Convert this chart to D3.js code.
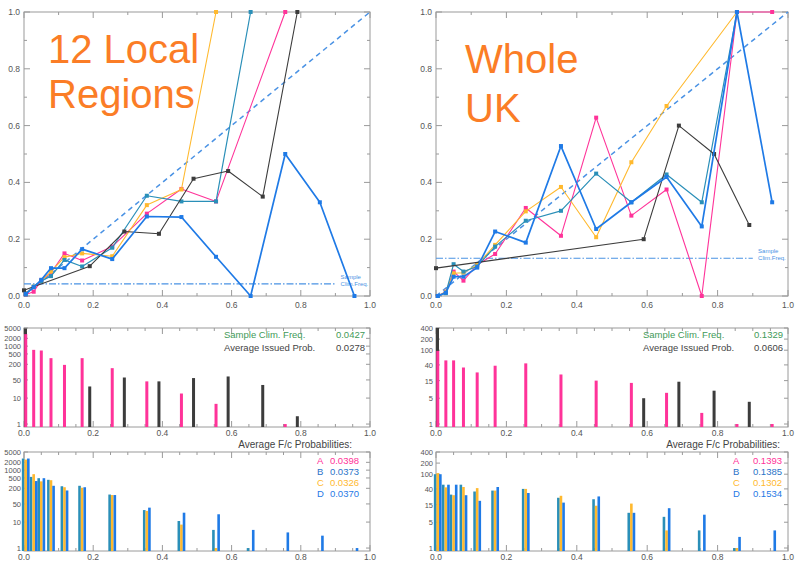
<!DOCTYPE html>
<html>
<head>
<meta charset="utf-8">
<script src="https://cdn.jsdelivr.net/npm/d3@7.9.0/dist/d3.min.js"></script>
<style>
  body { margin: 0; background: #fff; }
  svg text { font-family: "Liberation Sans", Arial, sans-serif; }
</style>
</head>
<body>
<svg id="chart" width="797" height="563"></svg>
<script>
// forecast probability bins (A-D) and the issued-forecast bins
const bins = [0.005, 0.028, 0.05, 0.078, 0.117, 0.168, 0.255, 0.355, 0.455, 0.555, 0.655, 0.755, 0.855, 0.955];
const localIssuedBins = [0, 0.19, 0.29, 0.39, 0.49, 0.59, 0.69, 0.79];
const ukIssuedBins = [0, 0.59, 0.69, 0.79, 0.89];

// 12 Local Regions: observed frequency per bin (null = empty bin)
const localRelA = [0.005, 0.015, 0.056, 0.082, 0.15, 0.125, 0.174, 0.29, 0.377, 0.333, null, 1.0, null, null];
const localRelB = [0.005, 0.033, 0.053, 0.07, 0.127, 0.104, 0.17, 0.353, 0.333, 0.333, 1.0, null, null, null];
const localRelC = [0.01, 0.033, 0.053, 0.086, 0.137, 0.15, 0.14, 0.32, 0.375, 1.0, null, null, null, null];
const localRelD = [0.008, 0.031, 0.057, 0.098, 0.098, 0.165, 0.13, 0.28, 0.278, 0.138, 0.0, 0.5, 0.33, 0.0];
const localRelIssued = [0.02, 0.105, 0.227, 0.219, 0.413, 0.44, 0.35, 1.0];

// 12 Local Regions: number of forecasts per bin
const localCountA = [2900, 720, 680, 345, 190, 345, 142, 44, 15, 6, null, 1, null, null];
const localCountIssued = [4800, 28, 62, 44, 59, 68, 32, 2];
const localCountB = [2800, 550, 490, 425, 240, 250, 115, 29, 11, 5, 1, null, null, null];
const localCountC = [2550, 700, 370, 410, 220, 210, 110, 27, 8, 1, null, null, null, null];
const localCountD = [2800, 380, 490, 250, 165, 220, 110, 36, 23, 20, 5, 4, 3, 1];

// Whole UK
const ukRelA = [0, 0.015, 0.086, 0.054, 0.11, 0.148, 0.31, 0.212, 0.628, 0.283, 0.375, 0.0, 1.0, 1.0];
const ukRelB = [0, 0.01, 0.112, 0.086, 0.104, 0.174, 0.265, 0.30, 0.431, 0.33, 0.428, 0.33, 1.0, null];
const ukRelC = [0, 0.015, 0.08, 0.082, 0.11, 0.18, 0.298, 0.384, 0.207, 0.471, 0.669, null, 1.0, null];
const ukRelD = [0, 0.012, 0.068, 0.068, 0.10, 0.227, 0.188, 0.528, 0.236, 0.33, 0.419, 0.245, 1.0, 0.33];
const ukRelIssued = [0.098, 0.2, 0.6, 0.5, 0.25];

const ukCountA = [96, 53, 53, 34, 25, 38, 44, 22, 15, 13, 7, 2, 1, 1];
const ukCountIssued = [400, 5, 14, 8, 4];
const ukCountB = [100, 52, 28, 52, 34, 36, 40, 23, 21, 9, 7, 3, 1, null];
const ukCountC = [107, 44, 27, 45, 42, 36, 40, 26, 14, 16, 3, null, 1, null];
const ukCountD = [100, 52, 52, 27, 19, 45, 31, 17, 25, 9, 12, 8, 2, 3];

// summary numbers and tick labels
const localClim = 0.0427, localIssuedMean = '0.0278';
const ukClim = 0.1329, ukIssuedMean = '0.0606';
const letters = ['A', 'B', 'C', 'D'];
const localMeans = ['0.0398', '0.0373', '0.0326', '0.0370'];
const ukMeans = ['0.1393', '0.1385', '0.1302', '0.1534'];
const probTicks = [0, 0.2, 0.4, 0.6, 0.8, 1.0];
const localCountTicks = [1, 10, 50, 200, 500, 1000, 2000, 5000];
const ukCountTicks = [1, 5, 15, 40, 100, 200, 400];

const colA = '#ff3399', colB = '#2a8fb8', colC = '#ffb92e', colD = '#1f7ae6', colIssued = '#3c3c3c';
const colClim = '#4a92e4', frameCol = '#9a9a9a', labelCol = '#555';

const svg = d3.select('#chart');

const columns = [
  {
    xr: [24, 370], title: ['12 Local', 'Regions'], titleX: 48, titleY: [63, 108],
    rel: [localRelA, localRelB, localRelC, localRelD], relIssued: localRelIssued, issuedBins: localIssuedBins,
    countA: localCountA, countIssued: localCountIssued, counts: [localCountB, localCountC, localCountD],
    clim: localClim, issuedMean: localIssuedMean, means: localMeans,
    yDomain: [0.77, 5000], yTicks: localCountTicks,
    legendX: 224, legendEnd: 365, letterX: 317, meanEnd: 359, fcTitleEnd: 352
  },
  {
    xr: [436, 788], title: ['Whole', 'UK'], titleX: 465, titleY: [73, 122],
    rel: [ukRelA, ukRelB, ukRelC, ukRelD], relIssued: ukRelIssued, issuedBins: ukIssuedBins,
    countA: ukCountA, countIssued: ukCountIssued, counts: [ukCountB, ukCountC, ukCountD],
    clim: ukClim, issuedMean: ukIssuedMean, means: ukMeans,
    yDomain: [0.83, 400], yTicks: ukCountTicks,
    legendX: 643, legendEnd: 783, letterX: 733, meanEnd: 782, fcTitleEnd: 780
  }
];

function frame(g, x, y) {
  const [x0, x1] = x.range();
  const [yb, yt] = y.range();
  g.append('rect').attr('x', x0).attr('y', yt).attr('width', x1 - x0).attr('height', yb - yt)
    .attr('fill', 'none').attr('stroke', frameCol).attr('stroke-width', 1);
}

function xTicks(g, x, y, minorStep, labelY) {
  const [yb, yt] = y.range();
  const minor = d3.range(0, 1.0001, minorStep);
  minor.forEach(v => {
    const major = Math.abs(v / 0.2 - Math.round(v / 0.2)) < 1e-6;
    const len = major ? 6 : 3;
    g.append('line').attr('x1', x(v)).attr('x2', x(v)).attr('y1', yb).attr('y2', yb - len).attr('stroke', frameCol);
    g.append('line').attr('x1', x(v)).attr('x2', x(v)).attr('y1', yt).attr('y2', yt + len).attr('stroke', frameCol);
  });
  g.selectAll(null).data(probTicks).join('text')
    .attr('x', d => x(d)).attr('y', labelY).attr('text-anchor', 'middle')
    .attr('font-size', 8.5).attr('fill', labelCol).text(d => d.toFixed(1));
}

columns.forEach(c => {
  const g = svg.append('g');
  const x = d3.scaleLinear().domain([0, 1]).range(c.xr);

  // ---------- reliability diagram ----------
  const y = d3.scaleLinear().domain([0, 1]).range([296, 12]);
  frame(g, x, y);
  xTicks(g, x, y, 0.1, 308);
  d3.range(0, 1.0001, 0.1).forEach(v => {
    const major = Math.abs(v / 0.2 - Math.round(v / 0.2)) < 1e-6;
    const len = major ? 6 : 3;
    g.append('line').attr('x1', c.xr[0]).attr('x2', c.xr[0] + len).attr('y1', y(v)).attr('y2', y(v)).attr('stroke', frameCol);
    g.append('line').attr('x1', c.xr[1]).attr('x2', c.xr[1] - len).attr('y1', y(v)).attr('y2', y(v)).attr('stroke', frameCol);
  });
  g.selectAll(null).data(probTicks).join('text')
    .attr('x', c.xr[0] - 4).attr('y', d => y(d) + 3).attr('text-anchor', 'end')
    .attr('font-size', 8.5).attr('fill', labelCol).text(d => d.toFixed(1));

  g.append('line').attr('x1', x(0)).attr('y1', y(0)).attr('x2', x(1)).attr('y2', y(1))
    .attr('stroke', colClim).attr('stroke-width', 1.5).attr('stroke-dasharray', '5,4');
  g.append('line').attr('x1', x(0)).attr('x2', x(0.9)).attr('y1', y(c.clim)).attr('y2', y(c.clim))
    .attr('stroke', colClim).attr('stroke-width', 1.2).attr('stroke-dasharray', '7,2,1.5,2');
  g.append('text').attr('x', x(0.915)).attr('y', y(c.clim) - 5).attr('font-size', 6).attr('fill', colClim).text('Sample');
  g.append('text').attr('x', x(0.915)).attr('y', y(c.clim) + 2).attr('font-size', 6).attr('fill', colClim).text('Clim.Freq.');

  const line = d3.line().x(d => x(d[0])).y(d => y(d[1]));
  const series = [
    { pts: c.rel[0].map((v, i) => [bins[i], v]), col: colA, w: 1.1 },
    { pts: c.rel[2].map((v, i) => [bins[i], v]), col: colC, w: 1.1 },
    { pts: c.rel[1].map((v, i) => [bins[i], v]), col: colB, w: 1.2 },
    { pts: c.relIssued.map((v, i) => [c.issuedBins[i], v]), col: colIssued, w: 1.1 },
    { pts: c.rel[3].map((v, i) => [bins[i], v]), col: colD, w: 1.7 }
  ];
  series.forEach(s => {
    const pts = s.pts.filter(p => p[1] != null);
    g.append('path').attr('d', line(pts)).attr('fill', 'none')
      .attr('stroke', s.col).attr('stroke-width', s.w).attr('stroke-linejoin', 'round');
    g.selectAll(null).data(pts).join('rect')
      .attr('x', d => x(d[0]) - 2).attr('y', d => y(d[1]) - 2).attr('width', 4).attr('height', 4)
      .attr('fill', s.col);
  });

  c.title.forEach((t, i) => {
    g.append('text').attr('x', c.titleX).attr('y', c.titleY[i]).attr('font-size', 40)
      .attr('fill', '#fb7d26').text(t);
  });

  // ---------- counts: A and issued ----------
  const yMid = d3.scaleLog().domain(c.yDomain).range([427, 328]);
  frame(g, x, yMid);
  xTicks(g, x, yMid, 0.05, 436);
  const yAxisTicks = (ys) => {
    c.yTicks.forEach(v => {
      g.append('line').attr('x1', c.xr[0]).attr('x2', c.xr[0] + 4).attr('y1', ys(v)).attr('y2', ys(v)).attr('stroke', frameCol);
      g.append('line').attr('x1', c.xr[1]).attr('x2', c.xr[1] - 4).attr('y1', ys(v)).attr('y2', ys(v)).attr('stroke', frameCol);
    });
    g.selectAll(null).data(c.yTicks).join('text')
      .attr('x', c.xr[0] - 3).attr('y', d => ys(d) + 3).attr('text-anchor', 'end')
      .attr('font-size', 7.5).attr('fill', labelCol).text(d => d);
  };
  yAxisTicks(yMid);

  const bar = (ys, xv, v, col, w, off) => {
    if (v == null) return;
    g.append('rect').attr('x', x(xv) + off - w / 2).attr('y', ys(v))
      .attr('width', w).attr('height', ys.range()[0] - ys(v)).attr('fill', col);
  };
  c.countIssued.forEach((v, i) => bar(yMid, c.issuedBins[i], v, colIssued, 3, i === 0 ? 1.5 : 0));
  c.countA.forEach((v, i) => bar(yMid, bins[i], v, colA, 3, 0));

  g.append('text').attr('x', c.legendX).attr('y', 338).attr('font-size', 9.5).attr('fill', '#3f9a58').text('Sample Clim. Freq.');
  g.append('text').attr('x', c.legendEnd).attr('y', 338).attr('text-anchor', 'end').attr('font-size', 9.5).attr('fill', '#3f9a58').text(c.clim.toFixed(4));
  g.append('text').attr('x', c.legendX).attr('y', 351).attr('font-size', 9.5).attr('fill', '#444').text('Average Issued Prob.');
  g.append('text').attr('x', c.legendEnd).attr('y', 351).attr('text-anchor', 'end').attr('font-size', 9.5).attr('fill', '#444').text(c.issuedMean);

  // ---------- counts: B, C, D ----------
  const yBot = d3.scaleLog().domain(c.yDomain).range([551, 452]);
  frame(g, x, yBot);
  xTicks(g, x, yBot, 0.05, 560);
  yAxisTicks(yBot);
  const groupCols = [colB, colC, colD];
  c.counts.forEach((arr, k) => {
    arr.forEach((v, i) => bar(yBot, bins[i], v, groupCols[k], 2.6, (k - 1) * 2.6));
  });

  g.append('text').attr('x', c.fcTitleEnd).attr('y', 448).attr('text-anchor', 'end')
    .attr('font-size', 10).attr('fill', '#444').text('Average F/c Probabilities:');
  const legendCols = [colA, '#2a74c8', colC, colD];
  letters.forEach((l, i) => {
    const yy = 464 + i * 11;
    g.append('text').attr('x', c.letterX).attr('y', yy).attr('font-size', 9.5).attr('fill', legendCols[i]).text(l);
    g.append('text').attr('x', c.meanEnd).attr('y', yy).attr('text-anchor', 'end').attr('font-size', 9.5)
      .attr('fill', legendCols[i]).text(c.means[i]);
  });
});
</script>
</body>
</html>
